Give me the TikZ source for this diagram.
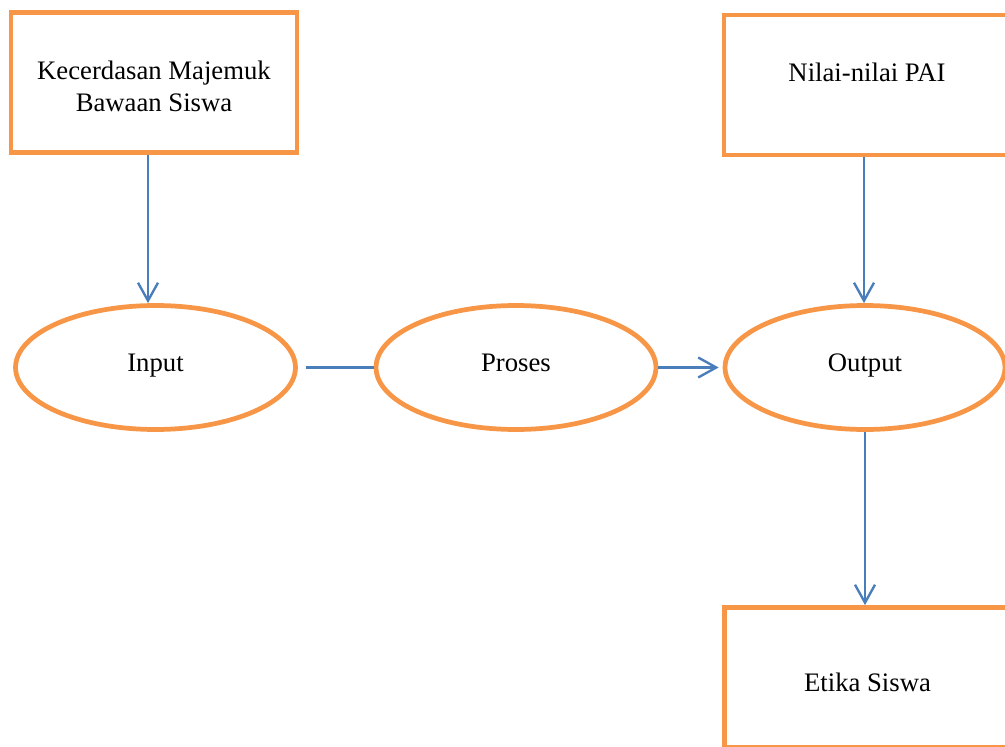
\documentclass[tikz,border=0pt]{standalone}
\usepackage{fontspec}
\setmainfont{Liberation Serif}
\usetikzlibrary{shapes.geometric,arrows.meta}

\definecolor{jingga}{HTML}{F79646}
\definecolor{biru}{HTML}{4A7EBB}

\tikzstyle{kotak} = [rectangle, draw=jingga, line width=2.7pt, minimum width=5.72cm, minimum height=2.8cm, inner sep=0pt]
\tikzstyle{elips} = [ellipse, draw=jingga, line width=2.7pt, minimum width=5.6cm, minimum height=2.48cm, inner sep=0pt, text height=10pt, text depth=5pt]
\tikzstyle{tulisan} = [font=\fontsize{15.2}{17.8}\selectfont, align=center]
\tikzstyle{garis} = [draw=biru, line width=1.35pt]
\tikzstyle{panah} = [garis, -{Straight Barb[length=0.36cm,width=0.4cm]}]

\begin{document}
\begin{tikzpicture}[x=0.02cm,y=-0.02cm]
\useasboundingbox (0,0) rectangle (1005,747);
\clip (0,0) rectangle (1005,747);
\node [kotak] (kms) at (154,82.5) {};
\node [tulisan] (kmstx) at ([yshift=-0.08cm]kms.center) {Kecerdasan Majemuk\\Bawaan Siswa};
\node [kotak] (nil) at (867,85) {};
\node [tulisan] (niltx) at ([yshift=0.26cm]nil.center) {Nilai-nilai PAI};
\node [elips,tulisan] (inp) at (155.5,367.5) {Input};
\node [elips,tulisan] (pro) at (516,367.5) {Proses};
\node [elips,tulisan] (out) at (865,367.5) {Output};
\node [kotak] (etk) at (867.5,677.5) {};
\node [tulisan] (etktx) at ([yshift=-0.09cm]etk.center) {Etika Siswa};

\draw [panah] ([xshift=-0.12cm]kms.south) -- ([xshift=-0.12cm]kms.south |- inp.north);
\draw [panah] ([xshift=-0.06cm]nil.south) -- ([xshift=-0.06cm]nil.south |- out.north);
\draw [panah] (out.south) -- (out.south |- etk.north);
\draw [garis] ([xshift=0.16cm]inp.east) -- (pro.west);
\draw [panah] (pro.east) -- ([xshift=-0.08cm]out.west);
\end{tikzpicture}
\end{document}
